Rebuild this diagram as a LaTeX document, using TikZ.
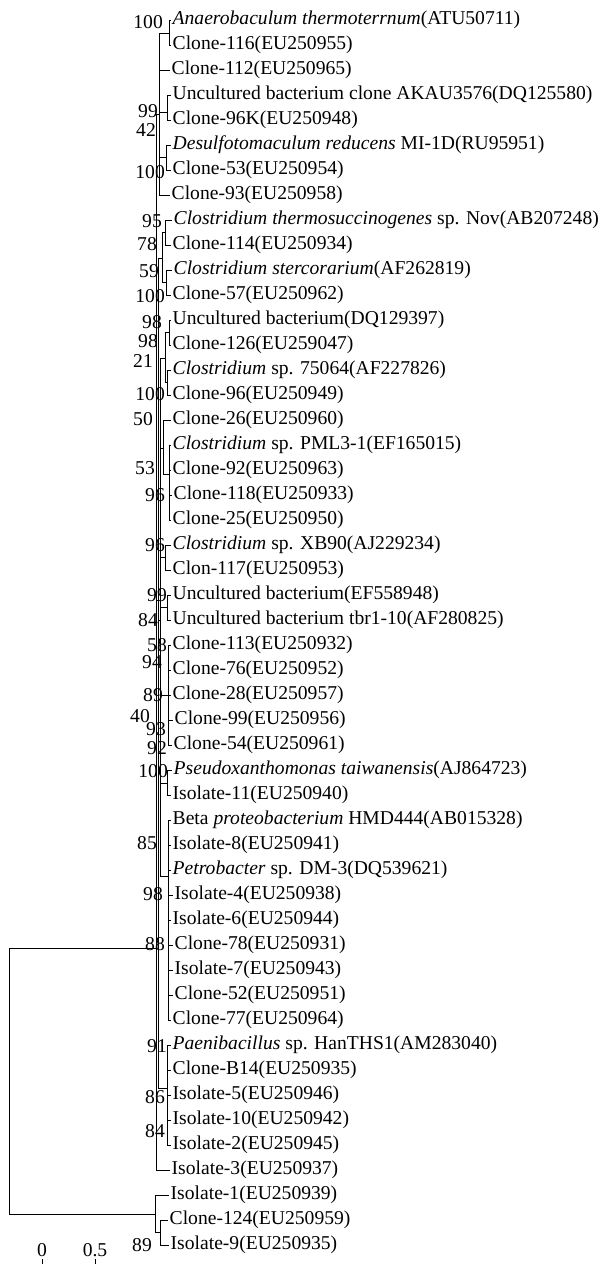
\documentclass[tikz,border=0pt]{standalone}
\usepackage{fontspec}
\setmainfont{Liberation Serif}
\newcommand{\lbl}{\fontsize{19.6}{22}\selectfont}
\newcommand{\lf}[4]{\coordinate (#1) at (#2,#3); \node[lab] (#1t) at ([xshift=1.5pt]#1) {#4};}
\newcommand{\bsv}[4]{\node[bs] (#1) at (#2,#3) {#4};}
\tikzset{
  br/.style={draw, line width=0.85pt},
  lab/.style={anchor=west, inner sep=0pt, font=\lbl},
  bs/.style={anchor=east, inner sep=0pt, font=\lbl},
  sc/.style={anchor=center, inner sep=0pt, font=\lbl}
}
\begin{document}
\begin{tikzpicture}[x=1pt,y=-1pt]
\useasboundingbox (0,0) rectangle (603,1264);
% leaves
\lf{L1}{171}{20}{\textit{Anaerobaculum thermoterrnum}(ATU50711)}
\lf{L2}{171}{45}{Clone-116(EU250955)}
\lf{L3}{170}{70}{Clone-112(EU250965)}
\lf{L4}{171}{95}{Uncultured bacterium clone AKAU3576(DQ125580)}
\lf{L5}{171}{120}{Clone-96K(EU250948)}
\lf{L6}{171}{145}{\textit{Desulfotomaculum reducens} MI-1D(RU95951)}
\lf{L7}{171}{170}{Clone-53(EU250954)}
\lf{L8}{170}{195}{Clone-93(EU250958)}
\lf{L9}{172}{220}{ \textit{Clostridium thermosuccinogenes} sp. Nov(AB207248)}
\lf{L10}{171}{245}{Clone-114(EU250934)}
\lf{L11}{172}{270}{ \textit{Clostridium stercorarium}(AF262819)}
\lf{L12}{171}{295}{Clone-57(EU250962)}
\lf{L13}{171}{320}{Uncultured bacterium(DQ129397)}
\lf{L14}{171}{345}{Clone-126(EU259047)}
\lf{L15}{171}{370}{\textit{Clostridium} sp. 75064(AF227826)}
\lf{L16}{171}{395}{Clone-96(EU250949)}
\lf{L17}{171}{420}{Clone-26(EU250960)}
\lf{L18}{171}{445}{\textit{Clostridium} sp. PML3-1(EF165015)}
\lf{L19}{171}{470}{Clone-92(EU250963)}
\lf{L20}{172}{495}{Clone-118(EU250933)}
\lf{L21}{171}{520}{Clone-25(EU250950)}
\lf{L22}{171}{545}{\textit{Clostridium} sp. XB90(AJ229234)}
\lf{L23}{171}{570}{Clon-117(EU250953)}
\lf{L24}{171}{595}{Uncultured bacterium(EF558948)}
\lf{L25}{171}{620}{Uncultured bacterium tbr1-10(AF280825)}
\lf{L26}{171}{645}{Clone-113(EU250932)}
\lf{L27}{171}{670}{Clone-76(EU250952)}
\lf{L28}{171}{695}{Clone-28(EU250957)}
\lf{L29}{173}{720}{Clone-99(EU250956)}
\lf{L30}{172}{745}{Clone-54(EU250961)}
\lf{L31}{172}{770}{\textit{Pseudoxanthomonas taiwanensis}(AJ864723)}
\lf{L32}{171}{795}{Isolate-11(EU250940)}
\lf{L33}{171}{820}{Beta \textit{proteobacterium} HMD444(AB015328)}
\lf{L34}{171}{845}{Isolate-8(EU250941)}
\lf{L35}{171}{870}{\textit{Petrobacter} sp. DM-3(DQ539621)}
\lf{L36}{173}{895}{Isolate-4(EU250938)}
\lf{L37}{171}{920}{Isolate-6(EU250944)}
\lf{L38}{173}{945}{Clone-78(EU250931)}
\lf{L39}{173}{970}{Isolate-7(EU250943)}
\lf{L40}{173}{995}{Clone-52(EU250951)}
\lf{L41}{171}{1020}{Clone-77(EU250964)}
\lf{L42}{171}{1045}{\textit{Paenibacillus} sp. HanTHS1(AM283040)}
\lf{L43}{171}{1070}{Clone-B14(EU250935)}
\lf{L44}{171}{1095}{Isolate-5(EU250946)}
\lf{L45}{171}{1120}{Isolate-10(EU250942)}
\lf{L46}{171}{1145}{Isolate-2(EU250945)}
\lf{L47}{170}{1170}{Isolate-3(EU250937)}
\lf{L48}{169}{1195}{Isolate-1(EU250939)}
\lf{L49}{168}{1220}{Clone-124(EU250959)}
\lf{L50}{169}{1245}{Isolate-9(EU250935)}
% internal nodes
\coordinate (n1) at (169,33);
\coordinate (n2) at (167,112);
\coordinate (n3) at (166,157);
\coordinate (U1) at (159,114);
\coordinate (n4) at (165,232);
\coordinate (n5) at (166,282);
\coordinate (U2) at (162,258);
\coordinate (n6) at (169,332);
\coordinate (n7) at (167,382);
\coordinate (U3) at (165,358);
\coordinate (n8) at (169,474);
\coordinate (U4) at (163,448);
\coordinate (n9) at (165,557);
\coordinate (n10) at (167,607);
\coordinate (n11) at (168,695);
\coordinate (n12) at (167,783);
\coordinate (n13) at (168,876);
\coordinate (n14) at (167,1088);
\coordinate (S3) at (160,620);
\coordinate (S2) at (158,600);
\coordinate (S1) at (156,948);
\coordinate (n15) at (160,1232);
\coordinate (Lo) at (155,1214);
\coordinate (R) at (9,1080);
% branches
\draw[br] (n1) |- (L1); \draw[br] (n1) |- (L2);
\draw[br] (n2) |- (L4); \draw[br] (n2) |- (L5);
\draw[br] (n3) |- (L6); \draw[br] (n3) |- (L7);
\draw[br] (U1) |- (n1); \draw[br] (U1) |- (L3); \draw[br] (U1) |- (n2);
\draw[br] (U1) |- (n3); \draw[br] (U1) |- (L8);
\draw[br] (n4) |- (L9); \draw[br] (n4) |- (L10);
\draw[br] (n5) |- (L11); \draw[br] (n5) |- (L12);
\draw[br] (U2) |- (n4); \draw[br] (U2) |- (n5);
\draw[br] (n6) |- (L13); \draw[br] (n6) |- (L14);
\draw[br] (n7) |- (L15); \draw[br] (n7) |- (L16);
\draw[br] (U3) |- (n6); \draw[br] (U3) |- (n7);
\foreach \c in {L18,L19,L20,L21} {\draw[br] (n8) |- (\c);}
\draw[br] (U4) |- (L17); \draw[br] (U4) |- (n8);
\draw[br] (n9) |- (L22); \draw[br] (n9) |- (L23);
\draw[br] (n10) |- (L24); \draw[br] (n10) |- (L25);
\foreach \c in {L26,L27,L28,L29,L30} {\draw[br] (n11) |- (\c);}
\draw[br] (n12) |- (L31); \draw[br] (n12) |- (L32);
\foreach \c in {L33,L34,L35,L36,L37,L38,L39,L40,L41} {\draw[br] (n13) |- (\c);}
\foreach \c in {L42,L43,L44,L45,L46} {\draw[br] (n14) |- (\c);}
\foreach \c in {U3,U4,n9,n10,n11,n12,n13} {\draw[br] (S3) |- (\c);}
\draw[br] (S2) |- (U2); \draw[br] (S2) |- (S3); \draw[br] (S2) |- (n14);
\draw[br] (S1) |- (U1); \draw[br] (S1) |- (S2); \draw[br] (S1) |- (L47);
\draw[br] (n15) |- (L49); \draw[br] (n15) |- (L50);
\draw[br] (Lo) |- (L48); \draw[br] (Lo) |- (n15);
\draw[br] (R) |- (S1); \draw[br] (R) |- (Lo);
% bootstrap values
\bsv{b1}{163}{22}{100}
\bsv{b2}{158}{111}{99}
\bsv{b3}{156}{130}{42}
\bsv{b4}{165}{172}{100}
\bsv{b5}{162}{221}{95}
\bsv{b6}{157}{244}{78}
\bsv{b7}{159}{271}{59}
\bsv{b8}{165}{296}{100}
\bsv{b9}{162}{322}{98}
\bsv{b10}{158}{341}{98}
\bsv{b11}{153}{361}{21}
\bsv{b12}{165}{394}{100}
\bsv{b13}{153}{419}{50}
\bsv{b14}{155}{468}{53}
\bsv{b15}{165}{495}{96}
\bsv{b16}{165}{545}{96}
\bsv{b17}{167}{595}{99}
\bsv{b18}{158}{620}{84}
\bsv{b19}{167}{645}{58}
\bsv{b20}{162}{662}{94}
\bsv{b21}{163}{695}{89}
\bsv{b22}{150}{716}{40}
\bsv{b23}{166}{729}{93}
\bsv{b24}{167}{748}{92}
\bsv{b25}{168}{771}{100}
\bsv{b26}{157}{843}{85}
\bsv{b27}{163}{894}{98}
\bsv{b28}{165}{944}{88}
\bsv{b29}{167}{1046}{91}
\bsv{b30}{165}{1097}{86}
\bsv{b31}{165}{1131}{84}
\bsv{b32}{152}{1245}{89}
% scale
\node[sc] (s0) at (42,1250) {0};
\node[sc] (s5) at (95,1250) {0.5};
\coordinate (t0a) at (42,1259); \coordinate (t0b) at (42,1264);
\coordinate (t5a) at (95,1259); \coordinate (t5b) at (95,1264);
\draw[br] (t0a) -- (t0b); \draw[br] (t5a) -- (t5b);
\end{tikzpicture}
\end{document}
